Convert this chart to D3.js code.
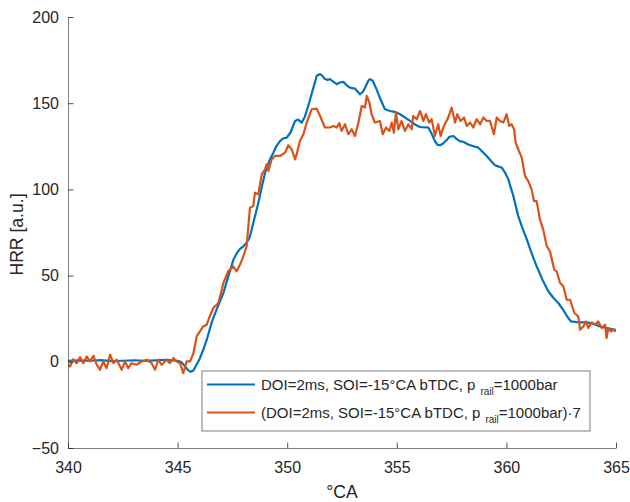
<!DOCTYPE html>
<html>
<head>
<meta charset="utf-8">
<script src="https://cdn.jsdelivr.net/npm/d3@7"></script>
<style>
  html, body { margin: 0; padding: 0; background: #fff; overflow: hidden; }
  svg { display: block; }
  svg text { font-family: "Liberation Sans", Arial, Helvetica, sans-serif; fill: #262626; }
</style>
</head>
<body>
<svg id="chart"></svg>
<script>
// Heat release rate curves
const blueCurve = [
  [340.0, 0.5], [340.5, 0.8], [341.0, 0.6], [341.5, 1.0], [342.0, 0.4], [342.5, 0.6],
  [343.0, 0.9], [343.5, 0.5], [344.0, 0.8], [344.5, 1.2], [345.0, 0.5], [345.15, 0],
  [345.3, -2], [345.45, -4.5], [345.6, -5.8], [345.72, -5], [345.85, -2], [346.0, 1.5],
  [346.2, 8], [346.33, 12.8], [346.56, 23], [346.8, 31], [346.93, 35], [347.09, 40],
  [347.3, 49], [347.54, 59], [347.7, 63], [347.85, 65.5], [348.0, 67], [348.15, 69],
  [348.28, 72], [348.38, 76.7], [348.5, 83], [348.68, 92], [348.85, 102], [348.99, 109.7],
  [349.2, 117], [349.37, 121.3], [349.5, 125], [349.67, 128], [349.8, 129.5], [349.98, 130],
  [350.15, 133], [350.36, 139.7], [350.5, 140.5], [350.66, 138.7], [350.8, 142], [350.96, 148.4],
  [351.15, 157], [351.35, 165.9], [351.5, 166.9], [351.6, 166], [351.72, 164], [351.85, 163.5],
  [351.95, 164], [352.1, 162.5], [352.26, 161], [352.4, 162], [352.56, 162.4], [352.7, 160.5],
  [352.86, 159], [353.09, 158.5], [353.2, 157], [353.32, 155.2], [353.45, 156.5], [353.55, 159],
  [353.7, 163], [353.78, 164], [353.9, 163], [354.08, 158], [354.23, 153], [354.46, 146.5],
  [354.69, 145.5], [354.9, 145], [355.15, 143.6], [355.4, 141.5], [355.6, 139.7], [355.85, 137.5],
  [356.06, 136.2], [356.3, 136], [356.44, 135.9], [356.6, 132], [356.74, 128], [356.85, 126],
  [356.97, 125.6], [357.1, 126.5], [357.28, 128.7], [357.4, 130.5], [357.58, 131], [357.75, 129],
  [357.88, 128], [358.05, 127.5], [358.26, 126], [358.5, 125], [358.72, 124.2], [358.9, 122],
  [359.1, 119.4], [359.3, 116.5], [359.48, 114], [359.65, 113.2], [359.79, 112.6], [359.95, 109.5],
  [360.09, 105.8], [360.2, 101], [360.32, 96], [360.54, 84.5], [360.75, 77], [360.93, 71],
  [361.15, 63], [361.38, 55.4], [361.65, 47.5], [361.91, 40.9], [362.15, 37], [362.37, 34.1],
  [362.6, 30], [362.82, 25.4], [362.95, 23.4], [363.2, 23], [363.66, 22.9], [364.0, 22],
  [364.27, 20.5], [364.6, 19.5], [364.95, 18.6], [365.0, 18.5]
];

const orangeCurve = [
  [340.0, -1.5], [340.09, -2.7], [340.24, 1.5], [340.4, -0.8], [340.55, 2.7], [340.7, -0.8],
  [340.85, 3.1], [341.0, 0.2], [341.16, 3.5], [341.31, -1.7], [341.46, -4.6], [341.61, 0.2],
  [341.76, -3.7], [341.92, 4.1], [342.07, -0.8], [342.22, 1.2], [342.45, -4.6], [342.6, 0.2],
  [342.75, -3.7], [342.9, -0.8], [343.13, -1.7], [343.36, 0.2], [343.59, 1.2], [343.82, -0.8],
  [343.97, -4.6], [344.12, 1.2], [344.27, -1.7], [344.5, 1.2], [344.65, -0.8], [344.81, 2.2],
  [344.96, 0.2], [345.11, -0.8], [345.26, -6.6], [345.41, 0.2], [345.57, 0.2], [345.72, 5],
  [345.87, 14.7], [346.02, 17.6], [346.17, 20.5], [346.33, 21.5], [346.45, 25.8], [346.63, 31.2],
  [346.86, 34.1], [347.09, 45.7], [347.31, 52.5], [347.54, 55.4], [347.69, 52.5], [347.85, 56.4],
  [348.0, 61.2], [348.15, 67.1], [348.3, 89.3], [348.45, 90.3], [348.53, 98.1], [348.68, 97.1],
  [348.84, 108.7], [348.99, 111.6], [349.06, 114.5], [349.14, 110.7], [349.29, 117.4], [349.44, 119.4],
  [349.67, 119.4], [349.9, 121.3], [350.05, 125.6], [350.2, 123.3], [350.36, 117.4], [350.43, 120.3],
  [350.58, 128.1], [350.74, 132], [350.89, 138.8], [351.12, 146.5], [351.34, 146.9], [351.5, 142.6],
  [351.72, 135.9], [351.95, 135.9], [352.1, 136.8], [352.26, 135.9], [352.38, 138.4], [352.48, 133.9],
  [352.64, 137.8], [352.79, 132], [352.94, 134.9], [353.09, 131], [353.25, 138.8], [353.4, 148.4],
  [353.55, 147.5], [353.63, 154.3], [353.75, 150.4], [353.85, 143.6], [354.0, 138.8], [354.23, 139.7],
  [354.36, 132], [354.51, 135.9], [354.66, 133.9], [354.77, 138.8], [354.87, 132.9], [354.96, 144.6],
  [355.07, 134.9], [355.22, 139.7], [355.37, 133.9], [355.53, 137.8], [355.68, 134.9], [355.75, 142.6],
  [355.91, 140.7], [356.06, 145.5], [356.21, 139.7], [356.33, 143.6], [356.48, 138.8], [356.59, 140.7],
  [356.74, 131], [356.89, 137.8], [357.0, 131], [357.15, 136.8], [357.31, 140.7], [357.4, 143.6],
  [357.5, 147.5], [357.66, 138.8], [357.76, 143.6], [357.91, 139.7], [358.07, 141.7], [358.19, 136.8],
  [358.34, 138.8], [358.49, 135.9], [358.64, 140.7], [358.8, 137.8], [358.95, 141.7], [359.1, 139.7],
  [359.25, 139.7], [359.43, 132], [359.56, 141.7], [359.71, 139.7], [359.86, 138.8], [360.01, 143.6],
  [360.13, 136.8], [360.24, 137.8], [360.35, 134.9], [360.42, 127.1], [360.54, 123.3], [360.7, 118.4],
  [360.85, 107.8], [361.0, 104.8], [361.15, 100], [361.26, 93.2], [361.38, 93.2], [361.53, 82.6],
  [361.68, 76.7], [361.84, 67.1], [361.99, 64.1], [362.18, 53.5], [362.29, 52.5], [362.45, 45.7],
  [362.6, 43.8], [362.75, 36], [362.9, 36], [362.98, 33.1], [363.1, 28.3], [363.28, 26.4],
  [363.36, 18.6], [363.51, 20.5], [363.63, 23.4], [363.74, 19.6], [363.89, 22.9], [364.04, 21.5],
  [364.19, 23.4], [364.35, 19.6], [364.5, 21.5], [364.57, 13.8], [364.65, 19.6], [364.76, 17.6],
  [364.88, 18.6], [365.0, 17.6]
];

const xTicks = [340, 345, 350, 355, 360, 365];
const yTicks = [-50, 0, 50, 100, 150, 200];
const seriesColors = ['#0072BD', '#D95319'];

const width = 630, height = 502;
const margin = { top: 17, right: 14, bottom: 54, left: 68 };
const innerWidth = width - margin.left - margin.right;
const innerHeight = height - margin.top - margin.bottom;

const svg = d3.select('#chart')
  .attr('width', width)
  .attr('height', height);

const g = svg.append('g')
  .attr('transform', `translate(${margin.left},${margin.top})`);

const xScale = d3.scaleLinear().domain([340, 365]).range([0, innerWidth]);
const yScale = d3.scaleLinear().domain([-50, 200]).range([innerHeight, 0]);

// Clip curves to the plot area
svg.append('defs').append('clipPath').attr('id', 'plot-clip')
  .append('rect').attr('width', innerWidth).attr('height', innerHeight);

const line = d3.line()
  .x(d => xScale(d[0]))
  .y(d => yScale(d[1]));

const curves = g.append('g').attr('clip-path', 'url(#plot-clip)');
[blueCurve, orangeCurve].forEach((data, i) => {
  curves.append('path')
    .datum(data)
    .attr('fill', 'none')
    .attr('stroke', seriesColors[i])
    .attr('stroke-width', 2.2)
    .attr('stroke-linejoin', 'round')
    .attr('d', line);
});

// Axes (MATLAB style: ticks inward, no box)
const xAxis = d3.axisBottom(xScale).tickValues(xTicks).tickSizeInner(-5.5).tickSizeOuter(0).tickPadding(14);
const yAxis = d3.axisLeft(yScale).tickValues(yTicks).tickSizeInner(-5.5).tickSizeOuter(0).tickPadding(9);

const gx = g.append('g')
  .attr('transform', `translate(0,${innerHeight})`)
  .call(xAxis);
const gy = g.append('g').call(yAxis);

[gx, gy].forEach(ax => {
  ax.select('.domain').attr('stroke', '#262626').attr('stroke-width', 0.6);
  ax.selectAll('.tick line').attr('stroke', '#262626').attr('stroke-width', 0.8);
  ax.selectAll('.tick text')
    .attr('fill', '#262626')
    .attr('font-size', '16px')
    .attr('font-family', '"Liberation Sans", Arial, sans-serif');
});

// Axis labels
svg.append('text')
  .attr('x', margin.left + innerWidth / 2)
  .attr('y', 498)
  .attr('text-anchor', 'middle')
  .attr('font-size', '17.6px')
  .text('°CA');

svg.append('text')
  .attr('transform', `translate(23,${margin.top + innerHeight / 2 + 2}) rotate(-90)`)
  .attr('text-anchor', 'middle')
  .attr('font-size', '17.6px')
  .text('HRR [a.u.]');

// Legend
const legend = svg.append('g').attr('transform', 'translate(202,371)');
legend.append('rect')
  .attr('width', 388)
  .attr('height', 60)
  .attr('fill', '#fff')
  .attr('stroke', '#262626')
  .attr('stroke-width', 0.6);

const legendRows = [
  { pre: 'DOI=2ms, SOI=-15°CA bTDC, p', post: '=1000bar' },
  { pre: '(DOI=2ms, SOI=-15°CA bTDC, p', post: '=1000bar)·7' }
];

legendRows.forEach((row, i) => {
  const cy = 13.5 + i * 28;
  legend.append('line')
    .attr('x1', 5).attr('x2', 53)
    .attr('y1', cy).attr('y2', cy)
    .attr('stroke', seriesColors[i])
    .attr('stroke-width', 2.2);
  const t = legend.append('text')
    .attr('x', 59)
    .attr('y', cy + 5)
    .attr('font-size', '15px');
  t.append('tspan').text(row.pre);
  t.append('tspan').attr('dx', 5).attr('dy', 5).attr('font-size', '10px').text('rail');
  t.append('tspan').attr('dy', -5).text(row.post);
});
</script>
</body>
</html>
